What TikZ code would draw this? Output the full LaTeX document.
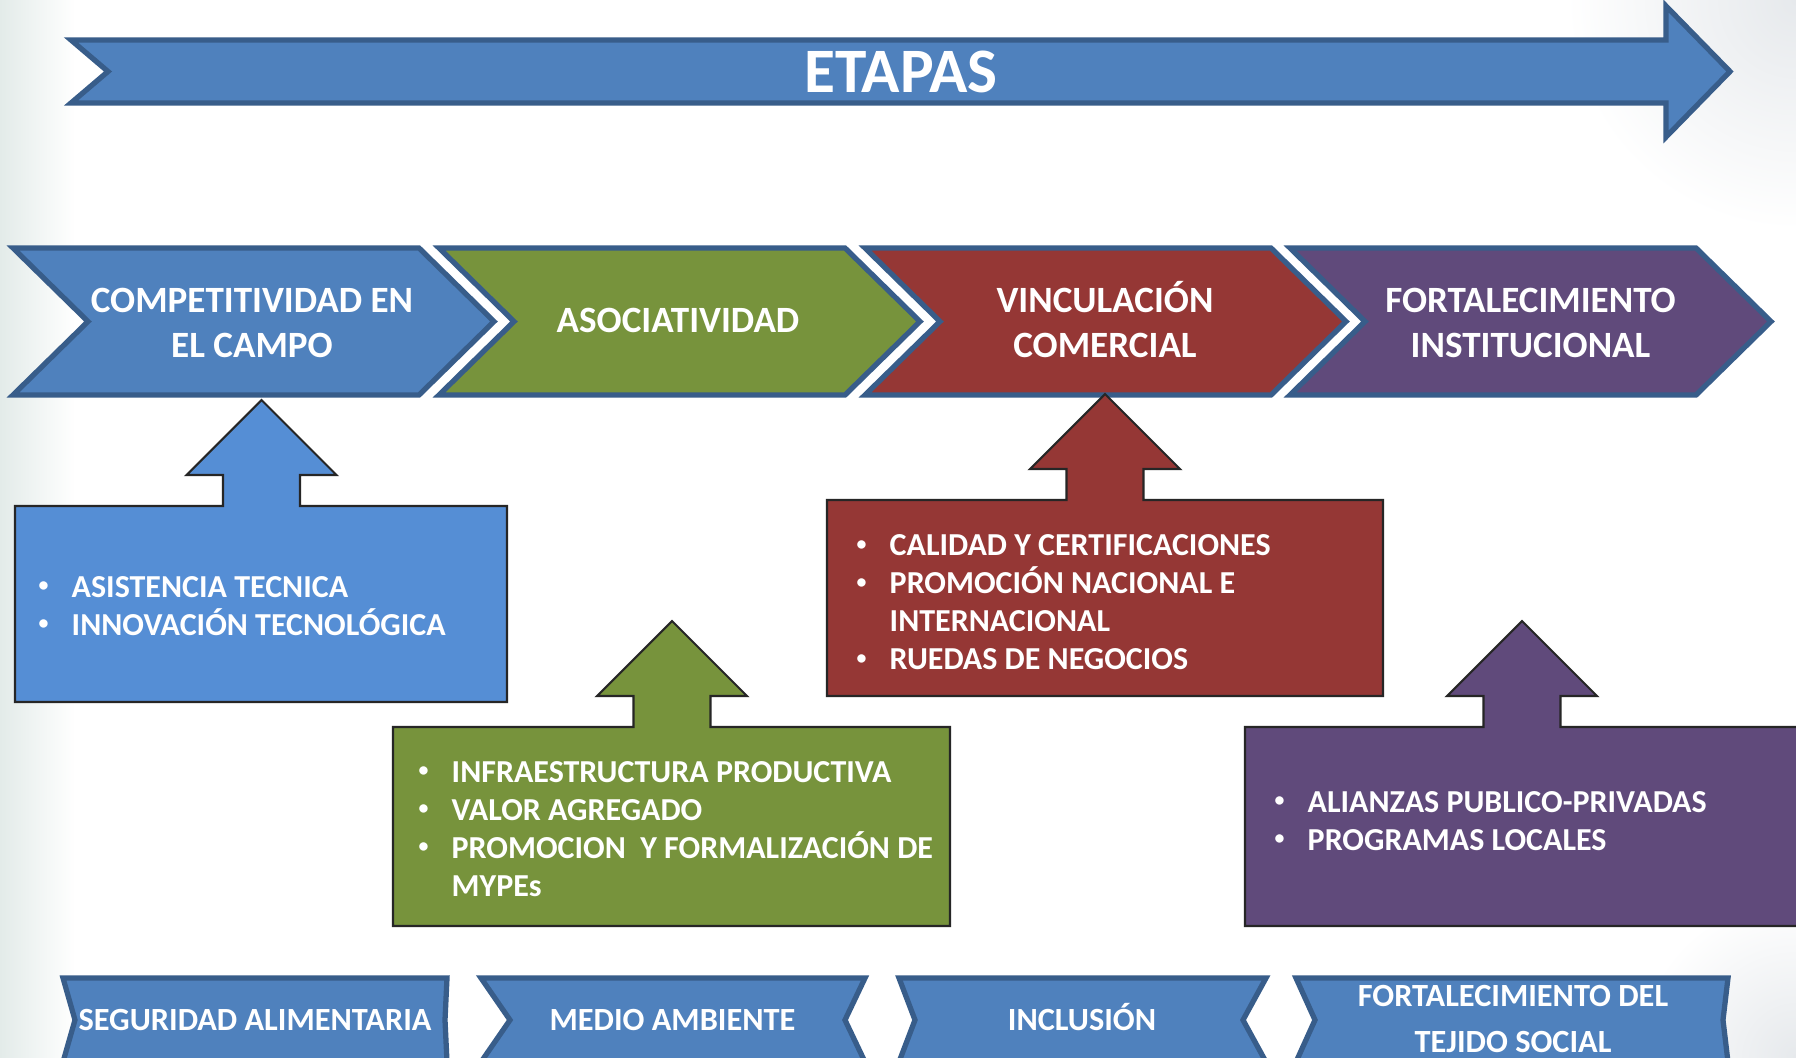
\documentclass[tikz,border=0pt]{standalone}
\usepackage{fontspec}
\usepackage{graphicx}
\setmainfont{Carlito}
\usetikzlibrary{calc}
\definecolor{etblue}{HTML}{4F81BD}
\definecolor{etborder}{HTML}{385D8A}
\definecolor{cbblue}{HTML}{558ED5}
\definecolor{etgreen}{HTML}{77933C}
\definecolor{etred}{HTML}{953735}
\definecolor{etpurple}{HTML}{604A7B}
\definecolor{wm}{HTML}{E3EBE9}
\definecolor{cornergray}{HTML}{E6E9EC}
\newcommand\bl{\makebox[0.31cm][l]{\kern-0.02cm\raisebox{0.35ex}{\scalebox{0.62}{\textbullet}}}}
\newcommand\ind{\hspace*{0.31cm}}
\newcommand\chevshape[2]{%
  \filldraw[chev, fill=#2] (#1,248) -- ++(406,0) -- ++(75,73.5) -- ++(-75,73.5) -- ++(-406,0) -- ++(75,-73.5) -- cycle;}
\newcommand\calloutshape[6]{%
  \filldraw[callout, fill=#1] (#2,#3) -- (#6-38.5,#3) -- (#6-38.5,#3-31) -- (#6-75,#3-31) -- (#6,#3-106) -- (#6+75,#3-31) -- (#6+38.5,#3-31) -- (#6+38.5,#3) -- (#4,#3) -- (#4,#5) -- (#2,#5) -- cycle;}
\newcommand\ribbonshape[4]{%
  \filldraw[rib] (#1,978) -- (#3,978) -- (#4,1020) -- (#3,1062) -- (#1,1062) -- (#2,1020) -- cycle;}
\begin{document}
\begin{tikzpicture}[x=0.01cm,y=-0.01cm,
  chev/.style={draw=etborder, line width=1.5pt, line join=miter},
  ttl/.style={text=white, font=\bfseries\fontsize{10.55}{12.8}\selectfont, align=center, inner sep=0pt},
  callout/.style={draw=black!85, line width=0.6pt, line join=miter},
  bul/.style={text=white, font=\bfseries\fontsize{9.1}{10.8}\selectfont, align=left, anchor=west, inner sep=0pt},
  rib/.style={draw=etborder, line width=1.5pt, fill=etblue, line join=miter},
  ribtxt/.style={text=white, font=\bfseries\fontsize{9.2}{13.1}\selectfont, align=center, inner sep=0pt},
  one/.style={text height=5.9pt, text depth=0pt}]
\useasboundingbox (0,0) rectangle (1796,1057);
\clip (0,0) rectangle (1796,1057);
\fill[white] (0,0) rectangle (1796,1057);
% faint background watermark / corner shading
\shade[left color=wm, right color=white] (0,0) rectangle (75,1057);
\shade[inner color=cornergray, outer color=white] (1796,0) circle (230);
\shade[inner color=cornergray, outer color=white] (1796,1057) circle (160);
% ETAPAS arrow
\filldraw[chev, fill=etblue] (71,40) -- (1666,40) -- (1666,6) -- (1730,71.5) -- (1666,137) -- (1666,103) -- (71,103) -- (108,71.5) -- cycle;
\node[text=white, font=\bfseries\fontsize{18}{20}\selectfont, inner sep=0pt] (etapas) at (901,72) {ETAPAS};
% stage chevrons
\chevshape{13}{etblue}
\chevshape{439}{etgreen}
\chevshape{865}{etred}
\chevshape{1290}{etpurple}
\node[ttl] (c1) at (252,322.5) {COMPETITIVIDAD EN\\EL CAMPO};
\node[ttl, one] (c2) at (678,322) {ASOCIATIVIDAD};
\node[ttl] (c3) at (1105,320) {VINCULACIÓN\\COMERCIAL};
\node[ttl] (c4) at (1530.5,322.5) {FORTALECIMIENTO\\INSTITUCIONAL};
% callouts
\calloutshape{cbblue}{15}{506}{507}{702}{261.5}
\calloutshape{etred}{827}{500}{1383}{696}{1105}
\calloutshape{etgreen}{393}{727}{950}{926}{672}
\calloutshape{etpurple}{1245}{727}{1800}{926}{1522}
\node[bul] (t1) at (40,606) {\bl ASISTENCIA TECNICA\\\bl INNOVACIÓN TECNOLÓGICA};
\node[bul] (t3) at (858,602.5) {\bl CALIDAD Y CERTIFICACIONES\\\bl PROMOCIÓN NACIONAL E\\\ind INTERNACIONAL\\\bl RUEDAS DE NEGOCIOS};
\node[bul] (t2) at (420,829) {\bl INFRAESTRUCTURA PRODUCTIVA\\\bl VALOR AGREGADO\\\bl PROMOCION\ \ Y FORMALIZACIÓN DE\\\ind MYPEs};
\node[bul] (t4) at (1276,821) {\bl ALIANZAS PUBLICO-PRIVADAS\\\bl PROGRAMAS LOCALES};
% bottom ribbons
\ribbonshape{63}{75}{447}{445}
\ribbonshape{481}{510}{865}{845}
\ribbonshape{899}{915}{1266}{1243}
\ribbonshape{1296}{1315}{1728}{1723}
\node[ribtxt, one] (r1) at (255,1020) {SEGURIDAD ALIMENTARIA};
\node[ribtxt, one] (r2) at (672.5,1020) {MEDIO AMBIENTE};
\node[ribtxt, one] (r3) at (1082,1020) {INCLUSIÓN};
\node[ribtxt] (r4) at (1513,1019) {FORTALECIMIENTO DEL\\TEJIDO SOCIAL};
\end{tikzpicture}
\end{document}
